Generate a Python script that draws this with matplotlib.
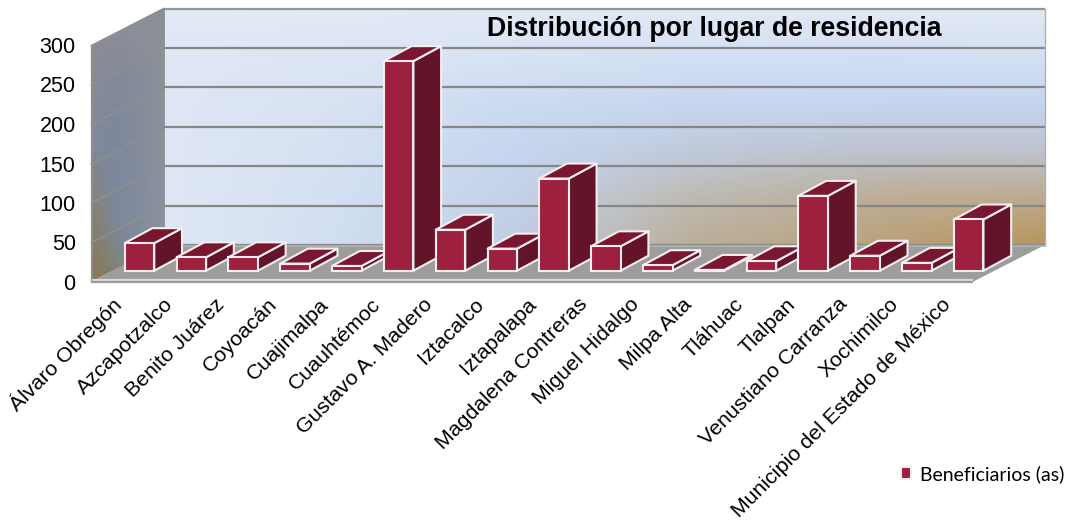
import numpy as np
import matplotlib
matplotlib.use("Agg")
import matplotlib.pyplot as plt
from matplotlib.patches import Polygon
from matplotlib.transforms import ScaledTranslation

plt.rcParams['font.family'] = ['Liberation Sans', 'DejaVu Sans']

categories = ["Álvaro Obregón", "Azcapotzalco", "Benito Juárez", "Coyoacán", "Cuajimalpa",
              "Cuauhtémoc", "Gustavo A. Madero", "Iztacalco", "Iztapalapa", "Magdalena Contreras",
              "Miguel Hidalgo", "Milpa Alta", "Tláhuac", "Tlalpan", "Venustiano Carranza",
              "Xochimilco", "Municipio del Estado de México"]
beneficiarios = [35, 17, 17, 9, 6, 266, 52, 28, 117, 31, 7, 1, 12, 95, 19, 10, 65]
series_name = "Beneficiarios (as)"
title = "Distribución por lugar de residencia"
y_ticks = [0, 50, 100, 150, 200, 250, 300]

W, H = 1071, 521
fig = plt.figure(figsize=(W / 100, H / 100), dpi=100, facecolor='white')
ax = fig.add_axes([113.6 / W, (H - 270.7) / H, 881 / W, 236.4 / H])
ax.set_axis_off()

XMIN, XMAX = -0.5, len(categories) - 0.5
YMIN, YMAX = y_ticks[0], y_ticks[-1]

# Oblique depth: depth z (in value units) shifts a point right and up
SHEAR = 0.0297
Z_FRONT, Z_BACK = -14.3, 32.6


def P(x, v, z):
    return (x + z * SHEAR, v + z)


back = [P(XMIN, YMIN, Z_BACK), P(XMAX, YMIN, Z_BACK), P(XMAX, YMAX, Z_BACK), P(XMIN, YMAX, Z_BACK)]
left = [P(XMIN, YMIN, Z_FRONT), P(XMIN, YMIN, Z_BACK), P(XMIN, YMAX, Z_BACK), P(XMIN, YMAX, Z_FRONT)]
floor = [P(XMIN, YMIN, Z_FRONT), P(XMAX, YMIN, Z_FRONT), P(XMAX, YMIN, Z_BACK), P(XMIN, YMIN, Z_BACK)]


def shade(rows, poly, z):
    arr = np.array([[matplotlib.colors.to_rgb(c) for c in r] for r in rows])
    xs = [p[0] for p in poly]
    ys = [p[1] for p in poly]
    dx = (max(xs) - min(xs)) / (arr.shape[1] - 1) / 2
    dy = (max(ys) - min(ys)) / (arr.shape[0] - 1) / 2
    im = ax.imshow(arr, extent=(min(xs) - dx, max(xs) + dx, min(ys) - dy, max(ys) + dy), origin='upper',
                   aspect='auto', interpolation='bilinear', zorder=z)
    patch = Polygon(poly, closed=True, transform=ax.transData, fc='none', ec='none', clip_on=False)
    ax.add_patch(patch)
    im.set_clip_box(fig.bbox)
    im.set_clip_path(patch)


shade([["#E4EBF7", "#E3EAF6", "#E2E9F6", "#E2E9F6", "#E2E9F6", "#E2E9F6"],
       ["#E0E7F5", "#DDE6F4", "#D8E3F3", "#D4E0F3", "#D3DFF2", "#D4E0F2"],
       ["#DFE7F5", "#D8E2F3", "#CCDBF1", "#C7D7F0", "#C6D6F0", "#C5D5EF"],
       ["#DFE7F5", "#D5E0F2", "#C6D6EF", "#C0CADC", "#BEC3CE", "#BEC3CE"],
       ["#DFE7F5", "#D3DFF2", "#C3D2E8", "#BEBAB2", "#BDAE98", "#BDAB8F"],
       ["#DFE7F5", "#D1DEF1", "#BFCCE0", "#BBAE98", "#BAA27C", "#B8945A"]], back, 1)
shade([["#8E9097", "#8E9097", "#8E9198", "#8B9098"],
       ["#868B96", "#84899A", "#868C98", "#8C9199"],
       ["#7F8A9C", "#7C889E", "#848C9B", "#8D929B"],
       ["#87806F", "#7D899E", "#828B9E", "#8C929C"],
       ["#8B7651", "#80826F", "#7F8A9E", "#8A929E"]], left, 1)
ax.add_patch(Polygon(floor, closed=True, fc="#9D9D9D", ec="none", zorder=2, clip_on=False))

# Walls' outline and grid
for v in y_ticks[1:]:
    (x0, y0), (x1, y1) = P(XMIN, v, Z_BACK), P(XMAX, v, Z_BACK)
    ax.plot([x0, x1], [y0, y1], color="#868686" if v < YMAX else "#959595", lw=1.6, zorder=3,
            clip_on=False, solid_capstyle='butt')
    (x2, y2) = P(XMIN, v, Z_FRONT)
    ax.plot([x2, x0], [y2, y0], color="#8E8E8E", lw=1.3, zorder=3, clip_on=False)
(x0, y0), (x1, y1) = P(XMIN, YMIN, Z_BACK), P(XMAX, YMIN, Z_BACK)
ax.plot([x0, x1], [y0 - 1, y1 - 1], color="#B4B4B4", lw=1.2, zorder=3, clip_on=False)
ax.plot([x0, x1], [y0 + 1, y1 + 1], color="#8C8C8C", lw=1.0, zorder=3, clip_on=False)
ax.plot(*zip(P(XMIN, YMIN, Z_FRONT), P(XMIN, YMAX, Z_FRONT)), color="#8E8E8E", lw=1.6, zorder=3, clip_on=False)
ax.plot(*zip(P(XMIN, YMIN, Z_BACK), P(XMIN, YMAX, Z_BACK)), color="#8E8E8E", lw=1.3, zorder=3, clip_on=False)
ax.plot(*zip(P(XMAX, YMIN, Z_BACK), P(XMAX, YMAX, Z_BACK)), color="#B0B0B0", lw=1.0, zorder=3, clip_on=False)
ax.plot(*zip(P(XMIN, YMIN, Z_FRONT), P(XMIN, YMIN, Z_BACK)), color="#A0A0A0", lw=1.0, zorder=3, clip_on=False)
# floor lip
fx0, fy0 = P(XMIN, YMIN, Z_FRONT)
fx1, fy1 = P(XMAX, YMIN, Z_FRONT)
ax.plot([fx0, fx1], [fy0 + 2.6, fy1 + 2.6], color="#DADADA", lw=1.6, zorder=3, clip_on=False, solid_capstyle='butt')
ax.plot([fx0, fx1], [fy0, fy1], color="#9A9A9A", lw=1.6, zorder=3, clip_on=False, solid_capstyle='butt')

# 3D bars
x_pos = np.arange(len(categories))
BAR_W = 0.57
DX, DY = 0.535, 19
bars = ax.bar(x_pos, beneficiarios, width=BAR_W, color="#9E203F", edgecolor="#F4EEF0",
              linewidth=1.5, label=series_name, clip_on=False)
for i, (b, val) in enumerate(zip(bars, beneficiarios)):
    zb = 10 + 3 * i
    l, r = i - BAR_W / 2, i + BAR_W / 2
    side = [(r, 0), (r + DX, DY), (r + DX, val + DY), (r, val)]
    top = [(l, val), (r, val), (r + DX, val + DY), (l + DX, val + DY)]
    ax.add_patch(Polygon(side, closed=True, fc="#641428", ec="#F4EEF0", lw=1.5, zorder=zb, clip_on=False,
                         joinstyle='round'))
    ax.add_patch(Polygon(top, closed=True, fc="#7A1730", ec="#F4EEF0", lw=1.5, zorder=zb + 1, clip_on=False,
                         joinstyle='round'))
    b.set_zorder(zb + 2)
ax.set_xlim(XMIN, XMAX)
ax.set_ylim(YMIN, YMAX)

# Front-plane axes carrying tick labels
axf = fig.add_axes([91 / W, (H - 282) / H, 881 / W, 237 / H], facecolor='none', zorder=5)
axf.set_xlim(XMIN, XMAX)
axf.set_ylim(YMIN, YMAX)
for s in axf.spines.values():
    s.set_visible(False)
axf.set_yticks(y_ticks)
axf.set_yticklabels([str(t) for t in y_ticks], fontsize=15.5, color="black")
axf.set_xticks(x_pos)
axf.set_xticklabels(categories, fontsize=15.4, rotation=45, ha='right', va='center',
                    rotation_mode='anchor', color="black")
axf.tick_params(axis='both', length=0)
axf.tick_params(axis='y', pad=11)
axf.tick_params(axis='x', pad=14)
for lab in axf.get_xticklabels():
    lab.set_transform(lab.get_transform() + ScaledTranslation(1.5 / 100, 0, fig.dpi_scale_trans))

fig.text(714.5 / W, 1 - 29 / H, title, ha='center', va='center', fontsize=19.2, fontweight='bold', color="black")

fig.legend(handles=[bars], labels=[series_name], loc='center right',
           bbox_to_anchor=(1068 / W, 1 - 474 / H), frameon=False, handlelength=0.52, handleheight=0.55,
           handletextpad=0.45, borderaxespad=0, borderpad=0.2,
           prop={'family': 'Lato', 'size': 14})

fig.savefig("out.png", dpi=100, facecolor='white')
